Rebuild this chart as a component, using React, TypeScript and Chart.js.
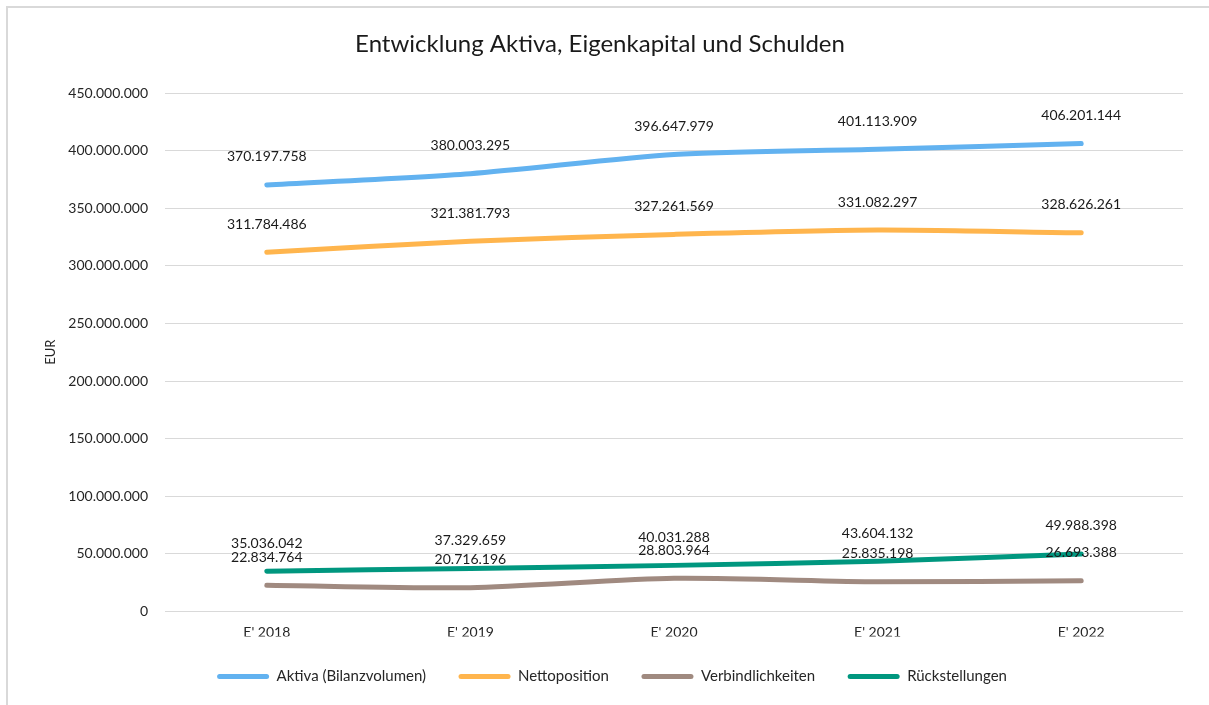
import React, { useEffect, useRef } from "react";
import { Chart, registerables } from "chart.js";

Chart.register(...registerables);

const categories = ["E' 2018", "E' 2019", "E' 2020", "E' 2021", "E' 2022"];
const aktiva = [370197758, 380003295, 396647979, 401113909, 406201144];
const nettoposition = [311784486, 321381793, 327261569, 331082297, 328626261];
const verbindlichkeiten = [22834764, 20716196, 28803964, 25835198, 26693388];
const rueckstellungen = [35036042, 37329659, 40031288, 43604132, 49988398];
const seriesNames = ["Aktiva (Bilanzvolumen)", "Nettoposition", "Verbindlichkeiten", "Rückstellungen"];
const seriesColors = ["#62B2F0", "#FFB54D", "#A08A80", "#00977F"];

const FONT = "Lato, 'Noto Sans', sans-serif";

function fmt(v: number): string {
  return Math.round(v).toString().replace(/\B(?=(\d{3})+(?!\d))/g, ".");
}

const dataLabels = {
  id: "dataLabels",
  afterDatasetsDraw(chart: any) {
    const ctx = chart.ctx;
    ctx.save();
    ctx.font = `14px ${FONT}`;
    ctx.fillStyle = "#1a1a1a";
    ctx.textAlign = "center";
    ctx.textBaseline = "middle";
    chart.data.datasets.forEach((ds: any, i: number) => {
      const meta = chart.getDatasetMeta(i);
      meta.data.forEach((pt: any, j: number) => {
        ctx.fillText(fmt(ds.data[j]), pt.x, pt.y - 28);
      });
    });
    ctx.restore();
  },
};

const legendShift = {
  id: "legendShift",
  afterLayout(chart: any) {
    const l = chart.legend;
    if (l) {
      l.left += 12;
      l.right += 12;
    }
  },
};

export default function App() {
  const ref = useRef<HTMLCanvasElement>(null);
  useEffect(() => {
    if (!ref.current) return;
    const series = [aktiva, nettoposition, verbindlichkeiten, rueckstellungen];
    const chart = new Chart(ref.current, {
      type: "line",
      data: {
        labels: categories,
        datasets: series.map((d, i) => ({
          label: seriesNames[i],
          data: d,
          borderColor: seriesColors[i],
          backgroundColor: seriesColors[i],
          borderWidth: 5,
          borderCapStyle: "round",
          borderJoinStyle: "round",
          pointRadius: 0,
          pointHoverRadius: 0,
          tension: 0.25,
          fill: false,
        })),
      },
      options: {
        responsive: false,
        animation: false,
        layout: { padding: { left: 17, right: 26, top: 0, bottom: 11 } },
        plugins: {
          tooltip: { enabled: false },
          title: {
            display: true,
            text: "Entwicklung Aktiva, Eigenkapital und Schulden",
            color: "#1a1a1a",
            font: { family: FONT, size: 24, weight: "normal" },
            padding: { top: 29.8, bottom: 34.4 },
          },
          legend: {
            position: "bottom",
            labels: {
              color: "#262626",
              font: { family: FONT, size: 15 },
              boxWidth: 52,
              boxHeight: 5,
              padding: 32.5,
              useBorderRadius: true,
              borderRadius: 2.5,
              generateLabels: (c: any) =>
                Chart.defaults.plugins.legend.labels.generateLabels(c).map((it: any) => ({
                  ...it,
                  lineWidth: 0,
                  strokeStyle: "rgba(0,0,0,0)",
                })),
            },
          },
        },
        scales: {
          x: {
            type: "category",
            offset: true,
            grid: { display: false, drawTicks: false },
            border: { display: false },
            ticks: { color: "#262626", font: { family: FONT, size: 14 }, padding: 13 },
            afterFit: (s: any) => {
              s.height = 25;
            },
          },
          y: {
            min: 0,
            max: 450000000,
            grid: { color: "#d9d9d9", lineWidth: 1, drawTicks: false },
            border: { display: false },
            ticks: {
              stepSize: 50000000,
              color: "#262626",
              font: { family: FONT, size: 14 },
              padding: 17,
              callback: (v: any) => fmt(Number(v)),
            },
            title: {
              display: true,
              text: "EUR",
              color: "#262626",
              font: { family: FONT, size: 13 },
              padding: { top: 26, bottom: 0 },
            },
            afterFit: (s: any) => {
              s.width = 148;
            },
          },
        },
      },
      plugins: [dataLabels, legendShift],
    } as any);
    return () => chart.destroy();
  }, []);
  return (
    <div>
      <div
        style={{ position: "fixed", left: 6, top: 6, width: 1203, height: 2, background: "#d9d9d9" }}
      />
      <div
        style={{ position: "fixed", left: 6, top: 6, width: 2, height: 699, background: "#d9d9d9" }}
      />
      <canvas
        ref={ref}
        width={1209}
        height={705}
        style={{ position: "fixed", left: 0, top: 0, width: 1209, height: 705 }}
      />
    </div>
  );
}
